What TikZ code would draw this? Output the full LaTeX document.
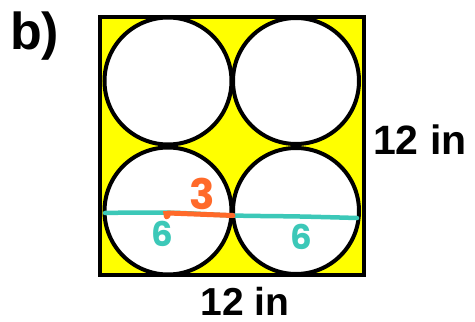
\documentclass[tikz,border=0pt]{standalone}
\usepackage{fontspec}
\setmainfont{Liberation Sans}
\newfontfamily\handfont{Poppins}
\definecolor{boxyellow}{HTML}{FFFF00}
\definecolor{tealline}{HTML}{3CC8B8}
\definecolor{orangeline}{HTML}{FF6A2A}
\begin{document}
\begin{tikzpicture}[x=1pt,y=-1pt,
  outline/.style={draw=black,line width=4pt},
  ring/.style={outline,fill=white},
  label/.style={inner sep=0pt,font=\fontsize{41}{41}\selectfont\bfseries},
  hand/.style={inner sep=0pt,font=\handfont\fontsize{34}{34}\selectfont\bfseries}]
\useasboundingbox (0,0) rectangle (475,322);
\fill[white] (0,0) rectangle (475,322);
% square
\draw[outline,fill=boxyellow] (100,17) rectangle (363.5,275);
% circles
\draw[ring] (168,81) circle (63.5);
\draw[ring] (296,81) circle (63);
\draw[ring] (168,211) circle (63.5);
\draw[ring] (296,211) circle (63);
% teal diameter line
\coordinate (tl) at (105,213);
\coordinate (tm) at (233,215.5);
\coordinate (tr) at (357,218);
\draw[tealline,line width=4.5pt,line cap=round] plot[smooth,tension=0.6] coordinates {(105,213) (140,212.5) (180,213) (233,215.5) (300,216.5) (357,218)};
% orange radius line
\coordinate (oc) at (233,215.5);
\coordinate (ol) at (168,213);
\draw[orangeline,line width=5pt,line cap=round] (oc) -- (ol);
\fill[orangeline] (163,211) -- (172,211) -- (170,217) .. controls (168,220) and (165,220) .. (164,217) -- cycle;
% labels
\node[hand,text=orangeline,font=\handfont\fontsize{42}{42}\selectfont\bfseries] (three) at (202,194) {3};
\node[hand,text=tealline] (sixl) at (162,234) {6};
\node[hand,text=tealline] (sixr) at (301,237) {6};
\node[label,anchor=base west,font=\fontsize{52}{52}\selectfont\bfseries] (b) at (10,49) {b)};
\node[label,anchor=base west] (rlab) at (373,154) {12 in};
\node[label,anchor=base,font=\fontsize{39}{39}\selectfont\bfseries] (blab) at (245,315) {12 in};
\end{tikzpicture}
\end{document}
